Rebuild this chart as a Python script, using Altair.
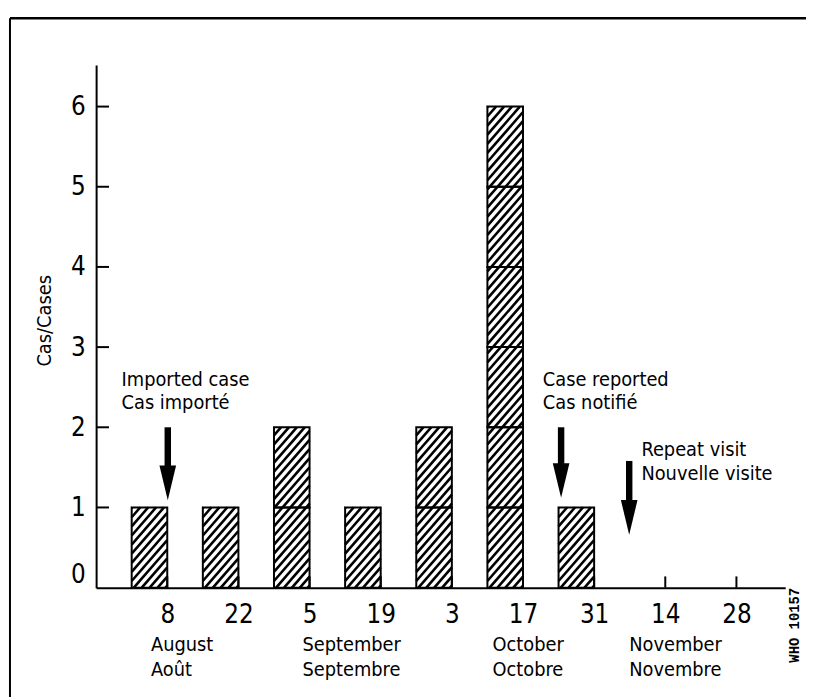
import altair as alt
import pandas as pd
import numpy as np

# ---- data (day index counted from 31 July, so 8 August = 8) ----
bar_days = [8, 22, 36, 50, 64, 78, 92]
bar_cases = [1, 1, 2, 1, 2, 6, 1]
tick_days = [8, 22, 36, 50, 64, 78, 92, 106, 120]
tick_labels = ["8", "22", "5", "19", "3", "17", "31", "14", "28"]
y_ticks = [0, 1, 2, 3, 4, 5, 6]
month_en = ["August", "September", "October", "November"]
month_fr = ["Août", "Septembre", "Octobre", "Novembre"]
month_day = [4.8, 34.6, 72.0, 98.9]
arrow_day = [8.1, 85.5, 98.9]
arrow_top = [2.0, 2.0, 1.58]
arrow_tip = [1.09, 1.12, 0.66]
note_en = ["Imported case", "Case reported", "Repeat visit"]
note_fr = ["Cas importé", "Cas notifié", "Nouvelle visite"]
note_day = [-1.0, 81.9, 101.3]
note_y = [2.52, 2.52, 1.64]

FONT = "Liberation Sans Narrow, Arial Narrow, DejaVu Sans Condensed, Roboto, sans-serif"
X_DOM = [-6.0, 129.6]
Y_DOM = [0, 6.52]
W_PX, H_PX = 696, 528
px_day = W_PX / (X_DOM[1] - X_DOM[0])
px_case = H_PX / (Y_DOM[1] - Y_DOM[0])
bar_len = 7  # days covered by a bar

# unit boxes
units = []
for d, n in zip(bar_days, bar_cases):
    for i in range(n):
        units.append({"x": d - bar_len, "x2": d, "y": i, "y2": i + 1})
units = pd.DataFrame(units)

# hatch lines (clipped diagonals inside each bar)
hatch = []
slope, period = 1.15, 8.0
for d, n in zip(bar_days, bar_cases):
    Wb = bar_len * px_day
    Hb = n * px_case
    c = -slope * Wb + 2
    while c < Hb:
        xlo = max(0.0, -c / slope)
        xhi = min(Wb, (Hb - c) / slope)
        if xhi > xlo:
            hatch.append({
                "x": d - bar_len + xlo / px_day, "y": (slope * xlo + c) / px_case,
                "x2": d - bar_len + xhi / px_day, "y2": (slope * xhi + c) / px_case,
            })
        c += slope * period
hatch = pd.DataFrame(hatch)

xscale = alt.Scale(domain=X_DOM, nice=False, zero=False)
yscale = alt.Scale(domain=Y_DOM, nice=False, zero=False)

label_expr = "[" + ",".join(f"'{t}'" for t in tick_labels) + "][indexof([" + \
    ",".join(str(t) for t in tick_days) + "], datum.value)]"

x_axis = alt.Axis(values=tick_days, labelExpr=label_expr, ticks=False, grid=False,
                  domainColor="black", domainWidth=2, labelFont=FONT, labelFontSize=26,
                  labelColor="black", labelPadding=14, title=None, labelFlush=False)
y_axis = alt.Axis(values=y_ticks, ticks=False, grid=False, domainColor="black",
                  domainWidth=2, labelFont=FONT, labelFontSize=26, labelColor="black",
                  labelPadding=11, labelFlush=True, title="Cas/Cases", titleFont=FONT,
                  titleFontSize=20, titleFontWeight="normal", titleColor="black",
                  titlePadding=16, titleY=258)

def X(f="x"):
    return alt.X(f"{f}:Q", scale=xscale, axis=x_axis)

def Y(f="y"):
    return alt.Y(f"{f}:Q", scale=yscale, axis=y_axis)

hatch_layer = alt.Chart(hatch).mark_rule(color="black", strokeWidth=2.6, strokeCap="butt").encode(
    x=X(), y=Y(), x2="x2:Q", y2="y2:Q",
)

box_layer = alt.Chart(units).mark_rect(fill="transparent", stroke="black", strokeWidth=2).encode(
    x=X(), x2="x2:Q", y=Y(), y2="y2:Q"
)

xt = pd.DataFrame({"x": tick_days, "y": 0.0, "y2": 0.14})
xtick_layer = alt.Chart(xt).mark_rule(color="black", strokeWidth=2).encode(
    x=X(), y=Y(), y2="y2:Q")

yt = pd.DataFrame({"y": y_ticks[1:], "x": X_DOM[0], "x2": X_DOM[0] + 13 / px_day})
ytick_layer = alt.Chart(yt).mark_rule(color="black", strokeWidth=2).encode(
    x=X(), x2="x2:Q", y=Y())

head_len = 35 / px_case
arr = pd.DataFrame({"x": arrow_day, "top": arrow_top, "tip": arrow_tip})
arr["shaft_end"] = arr["tip"] + head_len * 0.8
arr["head_c"] = arr["tip"] + head_len / 2
shaft_layer = alt.Chart(arr).mark_rule(color="black", strokeWidth=6.5, strokeCap="butt").encode(
    x=X(), y=Y("top"), y2="shaft_end:Q")
head_layer = alt.Chart(arr).mark_point(
    shape="M-0.48,-1L0.48,-1L0,1Z", filled=True, color="black", opacity=1, size=1225, strokeWidth=0
).encode(x=X(), y=Y("head_c"))

line_gap = 24 / px_case
notes = pd.DataFrame({
    "x": note_day * 2,
    "y": note_y + [v - line_gap for v in note_y],
    "t": note_en + note_fr,
})
note_layer = alt.Chart(notes).mark_text(
    align="left", baseline="alphabetic", font=FONT, fontSize=20, color="black"
).encode(x=X(), y=Y(), text="t:N")

month_y1 = -(654 - 590) / px_case
months = pd.DataFrame({
    "x": month_day * 2,
    "y": [month_y1] * 4 + [month_y1 - 25 / px_case] * 4,
    "t": month_en + month_fr,
})
month_layer = alt.Chart(months).mark_text(
    align="left", baseline="alphabetic", font=FONT, fontSize=20, color="black"
).encode(x=X(), y=Y(), text="t:N")

frame_top = alt.Chart(pd.DataFrame({"k": [0]})).mark_rule(color="black", strokeWidth=2.5).encode(
    x=alt.value(-87), x2=alt.value(720), y=alt.value(-47))
frame_left = alt.Chart(pd.DataFrame({"k": [0]})).mark_rule(color="black", strokeWidth=2).encode(
    x=alt.value(-87), y=alt.value(-47), y2=alt.value(640))
who = alt.Chart(pd.DataFrame({"t": ["WHO 10157"]})).mark_text(
    angle=270, font="Liberation Mono, DejaVu Sans Mono, monospace", fontSize=14,
    fontWeight="bold", color="black", align="center", baseline="middle"
).encode(x=alt.value(706), y=alt.value(566), text="t:N")

chart = alt.layer(
    hatch_layer, box_layer, xtick_layer, ytick_layer, shaft_layer, head_layer,
    note_layer, month_layer, frame_top, frame_left, who
).properties(
    width=W_PX, height=H_PX,
    autosize=alt.AutoSizeParams(type="none"),
    padding={"left": 89, "top": 54, "right": 21, "bottom": 107},
    background="white",
).configure_view(stroke=None)

chart.save("out.html", embed_options={"renderer": "svg", "actions": False})
